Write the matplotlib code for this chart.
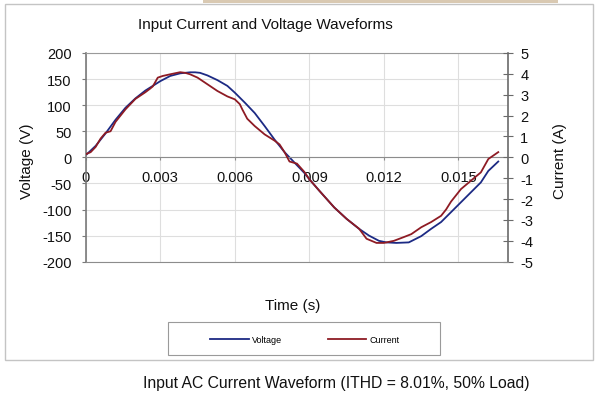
import matplotlib
matplotlib.use("Agg")
import matplotlib.pyplot as plt
from matplotlib.patches import Rectangle

plt.rcParams['font.family'] = ['Liberation Sans', 'DejaVu Sans']
plt.rcParams['axes.unicode_minus'] = False

# readings
t_voltage = [0.0000, 0.0004, 0.0008, 0.0012, 0.0016, 0.0020, 0.0024, 0.0028,
             0.0030, 0.0034, 0.0038, 0.0042, 0.0044, 0.0046, 0.0049, 0.0053,
             0.0057, 0.0060, 0.0064, 0.0068, 0.0072, 0.0076, 0.0080, 0.0084,
             0.0088, 0.0090, 0.0094, 0.0100, 0.0105, 0.0110, 0.0114, 0.0118,
             0.0121, 0.0125, 0.0130, 0.0135, 0.0139, 0.0143, 0.0147, 0.0151,
             0.0155, 0.0159, 0.0162, 0.0166]
voltage = [4, 22, 46, 72, 95, 113, 128, 140,
           146, 156, 161, 163, 163, 162, 157, 148,
           137, 124, 105, 85, 60, 34, 10, -10,
           -30, -42, -64, -96, -118, -137, -150, -160,
           -163, -164, -163, -151, -137, -124, -105, -86,
           -67, -48, -26, -8]

t_current = [0.0000, 0.0002, 0.0004, 0.0006, 0.0008, 0.0010, 0.0012, 0.0016,
             0.0020, 0.0024, 0.0026, 0.0027, 0.0029, 0.0031, 0.0034, 0.0038,
             0.0040, 0.0042, 0.0045, 0.0049, 0.0053, 0.0057, 0.0060, 0.0062,
             0.0063, 0.0065, 0.0068, 0.0072, 0.0076, 0.0078, 0.0080, 0.0082,
             0.0085, 0.0088, 0.0090, 0.0094, 0.0100, 0.0105, 0.0110, 0.0113,
             0.0117, 0.0120, 0.0124, 0.0128, 0.0131, 0.0135, 0.0139, 0.0143,
             0.0145, 0.0147, 0.0151, 0.0155, 0.0159, 0.0162, 0.0166]
current = [0.15, 0.25, 0.50, 0.90, 1.18, 1.25, 1.70, 2.30,
           2.80, 3.12, 3.30, 3.40, 3.82, 3.90, 3.98, 4.08,
           4.05, 3.98, 3.82, 3.50, 3.18, 2.92, 2.78, 2.55,
           2.30, 1.85, 1.50, 1.10, 0.80, 0.62, 0.25, -0.20,
           -0.30, -0.70, -1.05, -1.60, -2.40, -2.95, -3.42, -3.90,
           -4.10, -4.10, -4.00, -3.82, -3.68, -3.35, -3.10, -2.80,
           -2.50, -2.12, -1.52, -1.12, -0.72, -0.08, 0.25]

x_ticks = [0, 0.003, 0.006, 0.009, 0.012, 0.015]
x_labels = ['0', '0.003', '0.006', '0.009', '0.012', '0.015']
v_ticks = [-200, -150, -100, -50, 0, 50, 100, 150, 200]
i_ticks = [-5, -4, -3, -2, -1, 0, 1, 2, 3, 4, 5]

blue = '#1c2a84'
red = '#8e1b24'
W, H = 600, 406

fig = plt.figure(figsize=(6, 4.06), dpi=100)
ax = fig.add_axes([85.7 / W, 1 - 262.7 / H, 422.5 / W, 208.7 / H])
ax2 = ax.twinx()

ax.set_xlim(0, 0.017)
ax.set_ylim(-200, 200)
ax2.set_ylim(-5, 5)

ax.set_xticks(x_ticks)
ax.set_xticklabels(x_labels)
ax.set_yticks(v_ticks)
ax2.set_yticks(i_ticks)
ax.grid(True, color='#dedede', linewidth=0.8)
ax.set_axisbelow(True)

l1, = ax.plot(t_voltage, voltage, color=blue, linewidth=1.3, label='Voltage')
l2, = ax2.plot(t_current, current, color=red, linewidth=1.3, label='Current')

# Excel-style: x axis crosses at zero
ax.spines['bottom'].set_position(('data', 0))
ax.spines['bottom'].set_color('#8c8c8c')
ax.spines['left'].set_color('#7a7a7a')
ax.spines['left'].set_linewidth(1.2)
ax.spines['top'].set_color('#9a9a9a')
ax.spines['right'].set_visible(False)
for s in ['left', 'top']:
    ax2.spines[s].set_visible(False)
ax2.spines['bottom'].set_color('#8c8c8c')
ax2.spines['right'].set_color('#6a6a6a')
ax2.spines['right'].set_linewidth(1.2)

ax.tick_params(axis='x', direction='out', length=2.5, color='#8c8c8c',
               labelsize=10.5, pad=6.5, colors='#111111')
ax.tick_params(axis='y', direction='out', length=3, color='#7a7a7a',
               labelsize=10.5, pad=7, colors='#111111')
ax2.tick_params(axis='y', direction='inout', length=6.5, color='#6a6a6a',
                labelsize=10.5, pad=5.5, colors='#111111')

fig.text(26.7 / W, 1 - 161 / H, 'Voltage (V)', rotation=90, ha='center',
         va='center', fontsize=11, color='#111111')
fig.text(560 / W, 1 - 161 / H, 'Current (A)', rotation=90, ha='center',
         va='center', fontsize=11, color='#111111')
fig.text(292.7 / W, 1 - 306 / H, 'Time (s)', ha='center', va='center',
         fontsize=11, color='#111111')
fig.text(265 / W, 1 - 25 / H, 'Input Current and Voltage Waveforms',
         ha='center', va='center', fontsize=11, color='#111111')
fig.text(336.5 / W, 1 - 384 / H,
         'Input AC Current Waveform (ITHD = 8.01%, 50% Load)',
         ha='center', va='center', fontsize=11.3, color='#111111')

fig.legend([l1, l2], ['Voltage', 'Current'], ncol=2, loc='center',
           bbox_to_anchor=(305 / W, 1 - 340.7 / H), frameon=False,
           fontsize=6.5, handlelength=4.3, handletextpad=0.4,
           columnspacing=5.0)

# chart frame, legend box and the strip at the top edge
fig.patches.append(Rectangle((4.5 / W, 1 - 360.7 / H), 588.5 / W, 356 / H,
                             transform=fig.transFigure, facecolor='none',
                             edgecolor='#c4c4c4', linewidth=1.0))
fig.patches.append(Rectangle((168 / W, 1 - 356 / H), 272 / W, 33 / H,
                             transform=fig.transFigure, facecolor='none',
                             edgecolor='#9a9a9a', linewidth=0.8))
fig.patches.append(Rectangle((203 / W, 1 - 3.5 / H), 355 / W, 3.5 / H,
                             transform=fig.transFigure, facecolor='#d9c9b2',
                             edgecolor='none'))

fig.savefig('out.png', dpi=100)
